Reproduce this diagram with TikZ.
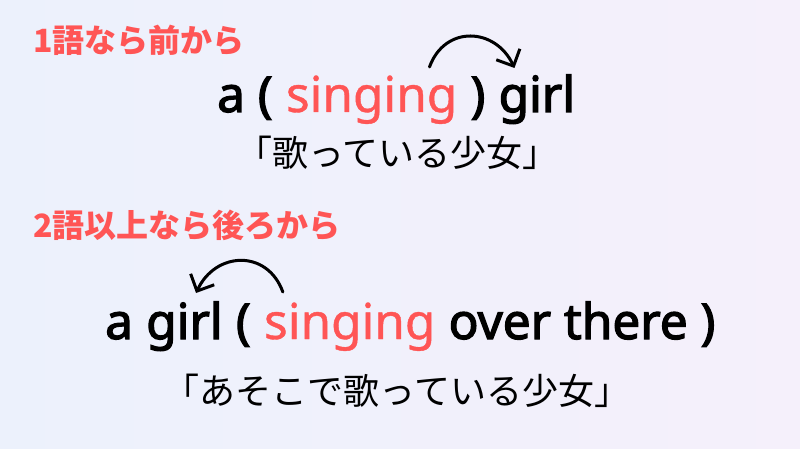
\documentclass[tikz,border=0pt]{standalone}
\usepackage{fontspec}
\usepackage{tikz}
\usetikzlibrary{arrows.meta, positioning, calc}
\newfontfamily\jpfont{Noto Sans CJK JP}
\newfontfamily\enfont{Noto Sans}[FakeBold=2.5]
\newfontfamily\enmedium{Noto Sans}[FakeBold=0.8]
\definecolor{Coral}{HTML}{FF5555}
\definecolor{PaleBlue}{HTML}{ECF1FC}
\definecolor{PaleLilac}{HTML}{F5F0FB}
\newcommand{\headfont}{\jpfont\bfseries\fontsize{32}{38}\selectfont}
\newcommand{\wordfont}{\enfont\fontsize{49.5}{56}\selectfont}
\newcommand{\hlfont}{\enmedium\fontsize{49.5}{56}\selectfont}
\newcommand{\glossfont}{\jpfont\fontsize{36}{42}\selectfont}

\tikzset{
  head/.style={font=\headfont, text=Coral, anchor=base west, inner sep=0pt},
  word/.style={font=\wordfont, anchor=base west, inner sep=0pt},
  hlword/.style={font=\hlfont, text=Coral, anchor=base west, inner sep=0pt},
  gloss/.style={font=\glossfont, inner sep=0pt},
  hop/.style={line width=3pt, line cap=round, -{Straight Barb[length=13pt, width=26pt]}}
}

\begin{document}
\begin{tikzpicture}[x=1pt, y=1pt]
\useasboundingbox (0,0) rectangle (800,448);
\shade[left color=PaleBlue, right color=PaleLilac] (0,0) rectangle (800,448);

% one word in front
\node[head] (head1) at (33,395) {1語なら前から};
\node[word] (pre1) at (217,336) {a (\ \mbox{}};
\node[hlword] (sing1) at (pre1.base east) {singing};
\node[word] (close1) at (sing1.base east) {\ )\ \mbox{}};
\node[word] (girl1) at (close1.base east) {girl};
\node[gloss] (gloss1) at (397.5,295.5) {「歌っている少女」};
\draw[hop] ([shift={(-28,45)}]sing1.base east) to[out=70, in=115, looseness=1.35] ([shift={(16,44)}]girl1.base west);

% two or more words behind
\node[head] (head2) at (33,210.5) {2語以上なら後ろから};
\node[word] (pre2) at (105,109) {a\ \mbox{}};
\node[word] (girl2) at (pre2.base east) {girl};
\node[word] (open2) at (girl2.base east) {\ (\ \mbox{}};
\node[hlword] (sing2) at (open2.base east) {singing};
\node[word] (post2) at (sing2.base east) {\ over there )};
\node[gloss] (gloss2) at (397,57) {「あそこで歌っている少女」};
\draw[hop] ([shift={(19,47)}]sing2.base west) to[out=110, in=65, looseness=1.35] ([shift={(50,46)}]girl2.base west);
\end{tikzpicture}
\end{document}
